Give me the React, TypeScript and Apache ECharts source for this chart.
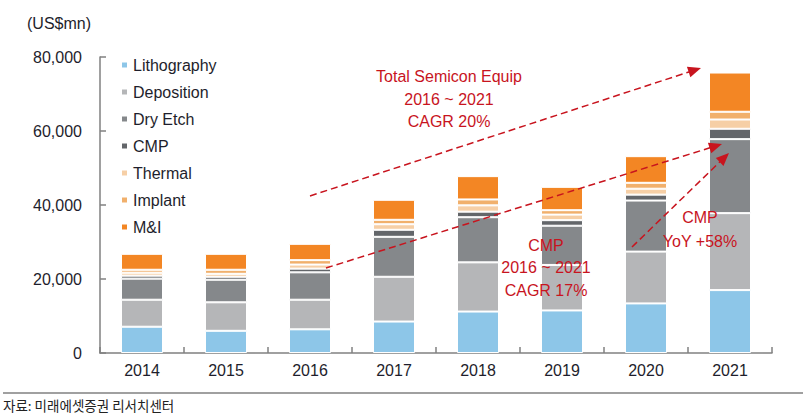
import React, { useEffect, useRef } from "react";
import * as echarts from "echarts";

const years = ["2014", "2015", "2016", "2017", "2018", "2019", "2020", "2021"];
const lithography = [7100, 6000, 6400, 8500, 11200, 11500, 13400, 17000];
const deposition = [7300, 7700, 8000, 12100, 13300, 12300, 14000, 20800];
const dryEtch = [5700, 6100, 7400, 10800, 12200, 10600, 13800, 20000];
const cmp = [800, 800, 1000, 1900, 1500, 1500, 1600, 2800];
const thermal = [800, 800, 1100, 1500, 1700, 1500, 1600, 2500];
const implant = [800, 1100, 1200, 1200, 1600, 1200, 1600, 2100];
const mi = [4300, 4300, 4400, 5400, 6300, 6300, 7200, 10600];

const seriesNames = ["Lithography", "Deposition", "Dry Etch", "CMP", "Thermal", "Implant", "M&I"];
const seriesData = [lithography, deposition, dryEtch, cmp, thermal, implant, mi];
const seriesColors = ["#8DC6E8", "#B5B6B8", "#85888B", "#63666A", "#F6CFA6", "#F1B06C", "#F38624"];

const FONT = "'Liberation Sans', Arial, sans-serif";
const TEXT = "#1e1e2c";
const RED = "#C8141E";

const notes = [
  { x: 449, ys: [76, 99, 121], lines: ["Total Semicon Equip", "2016 ~ 2021", "CAGR 20%"] },
  { x: 546, ys: [245, 267, 290], lines: ["CMP", "2016 ~ 2021", "CAGR 17%"] },
  { x: 700, ys: [217, 241], lines: ["CMP", "YoY +58%"] },
];

const arrows = [
  { x1: 310, y1: 196, x2: 701, y2: 68 },
  { x1: 326, y1: 268, x2: 722, y2: 144 },
  { x1: 632, y1: 247, x2: 729, y2: 153 },
];

function arrowElements(a: { x1: number; y1: number; x2: number; y2: number }) {
  const dx = a.x2 - a.x1;
  const dy = a.y2 - a.y1;
  const L = Math.sqrt(dx * dx + dy * dy);
  const ux = dx / L;
  const uy = dy / L;
  const len = 13;
  const w = 5.5;
  const bx = a.x2 - ux * len;
  const by = a.y2 - uy * len;
  const nx = -uy;
  const ny = ux;
  return [
    {
      type: "line",
      shape: { x1: a.x1, y1: a.y1, x2: bx + ux * 2, y2: by + uy * 2 },
      style: { stroke: RED, lineWidth: 1.5, lineDash: [7, 4] },
      z: 100,
    },
    {
      type: "polygon",
      shape: {
        points: [
          [a.x2, a.y2],
          [bx + nx * w, by + ny * w],
          [bx - nx * w, by - ny * w],
        ],
      },
      style: { fill: RED },
      z: 100,
    },
  ];
}

export default function App() {
  const ref = useRef<HTMLDivElement>(null);
  useEffect(() => {
    if (!ref.current) return;
    const chart = echarts.init(ref.current, null, { renderer: "svg" });
    const graphics: any[] = [];
    graphics.push({
      type: "text",
      left: 27,
      top: 15,
      style: { text: "(US$mn)", fill: TEXT, fontSize: 16, fontFamily: FONT },
    });
    notes.forEach((n) => {
      n.lines.forEach((t, i) => {
        graphics.push({
          type: "text",
          x: n.x,
          y: n.ys[i],
          z: 101,
          style: {
            text: t,
            fill: RED,
            fontSize: 16,
            fontFamily: FONT,
            textAlign: "center",
            textVerticalAlign: "middle",
          },
        });
      });
    });
    arrows.forEach((a) => graphics.push(...arrowElements(a)));
    graphics.push({
      type: "line",
      shape: { x1: 3, y1: 393, x2: 803, y2: 393 },
      style: { stroke: "#808080", lineWidth: 1.5 },
    });
    graphics.push({
      type: "text",
      x: 3,
      y: 405,
      style: {
        text: "자료: 미래에셋증권 리서치센터",
        fill: "#222",
        fontSize: 13.5,
        fontFamily: "'Noto Sans CJK KR', sans-serif",
        textVerticalAlign: "middle",
      },
    });

    chart.setOption({
      animation: false,
      grid: { left: 100, right: 37, top: 57, bottom: 67, containLabel: false },
      legend: {
        orient: "vertical",
        left: 115,
        top: 52,
        itemWidth: 7,
        itemHeight: 7,
        itemGap: 11,
        icon: "rect",
        data: seriesNames,
        textStyle: { color: TEXT, fontSize: 16, fontFamily: FONT, lineHeight: 16 },
      },
      xAxis: {
        type: "category",
        data: years,
        axisLine: { lineStyle: { color: "#808080", width: 1.5 } },
        axisTick: { show: true, inside: true, length: 6, lineStyle: { color: "#808080", width: 1.5 } },
        axisLabel: { color: TEXT, fontSize: 16, fontFamily: FONT, margin: 9 },
      },
      yAxis: {
        type: "value",
        min: 0,
        max: 80000,
        interval: 20000,
        splitLine: { show: false },
        axisLine: { show: true, lineStyle: { color: "#808080", width: 1.5 } },
        axisTick: { show: true, inside: true, length: 6, lineStyle: { color: "#808080", width: 1.5 } },
        axisLabel: {
          color: TEXT,
          fontSize: 16,
          fontFamily: FONT,
          margin: 18,
          formatter: (v: number) => v.toLocaleString("en-US"),
        },
      },
      series: seriesNames.map((name, i) => ({
        name,
        type: "bar",
        stack: "total",
        barWidth: 42,
        data: seriesData[i],
        itemStyle: { color: seriesColors[i], borderColor: "#fff", borderWidth: 1 },
      })),
      graphic: graphics,
    });
    return () => chart.dispose();
  }, []);
  return (
    <div
      ref={ref}
      style={{ position: "absolute", left: 0, top: 0, width: 809, height: 420 }}
    />
  );
}
